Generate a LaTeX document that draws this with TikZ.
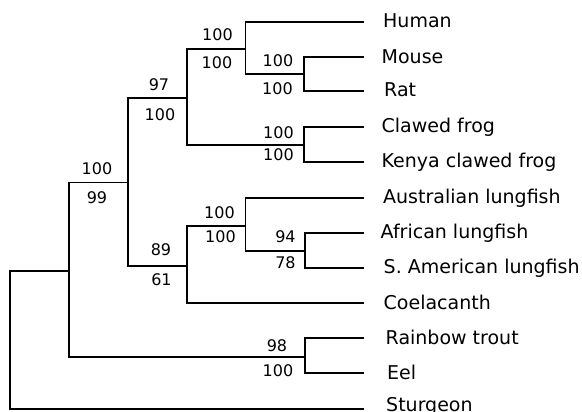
\documentclass[tikz,border=0pt]{standalone}
\usepackage{fontspec}
\setmainfont{DejaVu Sans}
\begin{document}
\begin{tikzpicture}[x=1pt,y=-1pt,
  br/.style={line width=1.8pt},
  leaf/.style={anchor=base west,inner sep=0pt,font=\fontsize{19}{21}\selectfont},
  bs/.style={inner sep=0pt,font=\fontsize{16}{18}\selectfont}]
\fill[white] (0,0) rectangle (582,412);
\useasboundingbox (0,0) rectangle (582,412);
% internal nodes
\coordinate (R)  at (10,340);
\coordinate (A)  at (69,271);
\coordinate (B)  at (128,182.5);
\coordinate (C)  at (187,98);
\coordinate (D)  at (187,266);
\coordinate (E)  at (245.5,49);
\coordinate (MR) at (304,74);
\coordinate (Fr) at (304,145);
\coordinate (F)  at (245.5,226);
\coordinate (G)  at (305,251);
\coordinate (T)  at (305,357);
% tips
\coordinate (tHum) at (364,22);
\coordinate (tMou) at (364,57);
\coordinate (tRat) at (364,91);
\coordinate (tClf) at (364,127);
\coordinate (tKen) at (364,162);
\coordinate (tAus) at (364,198);
\coordinate (tAfr) at (364,233);
\coordinate (tSam) at (364,268);
\coordinate (tCoe) at (364,303);
\coordinate (tTro) at (364,338);
\coordinate (tEel) at (364,373);
\coordinate (tStu) at (364,409);
% leaf labels
\node[leaf] (lHum) at (383,27.5) {Human};
\node[leaf] (lMou) at (381.5,63.5) {Mouse};
\node[leaf] (lRat) at (384,96.5) {Rat};
\node[leaf] (lClf) at (381.5,133) {Clawed frog};
\node[leaf] (lKen) at (381.5,167.5) {Kenya clawed frog};
\node[leaf] (lAus) at (383,204) {Australian lungfish};
\node[leaf] (lAfr) at (380.5,238.5) {African lungfish};
\node[leaf] (lSam) at (383.5,273) {S. American lungfish};
\node[leaf] (lCoe) at (383.5,309.5) {Coelacanth};
\node[leaf] (lTro) at (385.5,344.5) {Rainbow trout};
\node[leaf] (lEel) at (387,379) {Eel};
\node[leaf] (lStu) at (386,411.5) {Sturgeon};
% branches
\foreach \p/\c in {R/A,R/tStu,A/B,A/T,B/C,B/D,C/E,C/Fr,E/tHum,E/MR,
  MR/tMou,MR/tRat,Fr/tClf,Fr/tKen,D/F,D/tCoe,F/tAus,F/G,G/tAfr,G/tSam,
  T/tTro,T/tEel}
  \draw[br] (\p) |- (\c);
% bootstrap values
\node[bs] (bA1) at (97,168.5) {100};
\node[bs] (bA2) at (97,197.5) {99};
\node[bs] (bB1) at (159,84.5) {97};
\node[bs] (bB2) at (160,115) {100};
\node[bs] (bD1) at (161,250) {89};
\node[bs] (bD2) at (161.5,280) {61};
\node[bs] (bC1) at (217.5,35) {100};
\node[bs] (bC2) at (217,62.5) {100};
\node[bs] (bE1) at (278,61) {100};
\node[bs] (bE2) at (277.5,88.5) {100};
\node[bs] (bF1) at (278.5,133) {100};
\node[bs] (bF2) at (278.5,155) {100};
\node[bs] (bG1) at (219.5,212.5) {100};
\node[bs] (bG2) at (220.5,237) {100};
\node[bs] (bH1) at (285.5,237) {94};
\node[bs] (bH2) at (285.5,263) {78};
\node[bs] (bT1) at (277,346) {98};
\node[bs] (bT2) at (278,371) {100};
\end{tikzpicture}
\end{document}
